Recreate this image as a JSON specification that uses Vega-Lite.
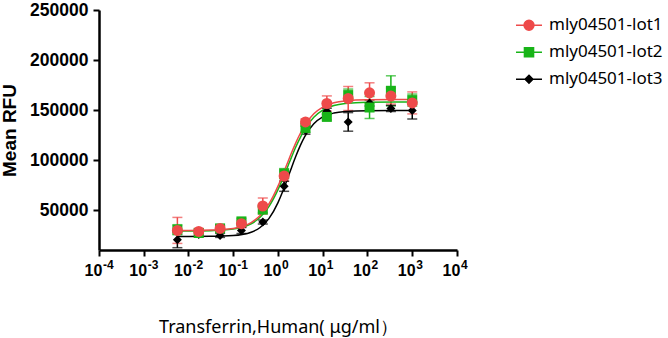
{
  "$schema": "https://vega.github.io/schema/vega-lite/v6.json",
  "width": 358,
  "height": 240,
  "autosize": {"type": "none"},
  "padding": {"left": 99, "top": 10, "right": 211, "bottom": 88},
  "background": "white",
  "config": {
    "view": {"stroke": null},
    "axis": {
      "grid": false,
      "domainColor": "black",
      "domainWidth": 2.5,
      "tickColor": "black",
      "tickWidth": 2,
      "tickSize": 6,
      "labelFont": "Liberation Sans",
      "labelFontWeight": "bold",
      "labelFontSize": 16,
      "labelColor": "black",
      "titleColor": "black",
      "titleFont": "Liberation Sans"
    },
    "legend": {
      "orient": "none",
      "legendX": 416,
      "legendY": 2,
      "labelFont": "Noto Sans",
      "labelFontSize": 17,
      "labelColor": "black",
      "labelOffset": 6,
      "symbolSize": 676,
      "symbolStrokeWidth": 1.5,
      "symbolOpacity": 1,
      "clipHeight": 26.5,
      "rowPadding": 0
    }
  },
  "datasets": {
    "pts": [
      {"lot": "mly04501-lot3", "x": 0.005645, "mean": 20300, "lo": 12300, "hi": 28300},
      {"lot": "mly04501-lot3", "x": 0.01694, "mean": 25500, "lo": 23500, "hi": 27500},
      {"lot": "mly04501-lot3", "x": 0.0508, "mean": 24600, "lo": 22600, "hi": 26600},
      {"lot": "mly04501-lot3", "x": 0.1524, "mean": 29500, "lo": 26500, "hi": 32500},
      {"lot": "mly04501-lot3", "x": 0.4572, "mean": 38000, "lo": 36000, "hi": 40000},
      {"lot": "mly04501-lot3", "x": 1.372, "mean": 73700, "lo": 68700, "hi": 78700},
      {"lot": "mly04501-lot3", "x": 4.115, "mean": 129800, "lo": 125800, "hi": 133800},
      {"lot": "mly04501-lot3", "x": 12.35, "mean": 148800, "lo": 145800, "hi": 151800},
      {"lot": "mly04501-lot3", "x": 37.04, "mean": 138100, "lo": 128800, "hi": 147400},
      {"lot": "mly04501-lot3", "x": 111.1, "mean": 157000, "lo": 154000, "hi": 160000},
      {"lot": "mly04501-lot3", "x": 333.3, "mean": 151500, "lo": 148500, "hi": 154500},
      {"lot": "mly04501-lot3", "x": 1000, "mean": 149500, "lo": 141000, "hi": 158000},
      {"lot": "mly04501-lot2", "x": 0.005645, "mean": 30300, "lo": 25300, "hi": 35300},
      {"lot": "mly04501-lot2", "x": 0.01694, "mean": 27000, "lo": 23500, "hi": 30500},
      {"lot": "mly04501-lot2", "x": 0.0508, "mean": 31600, "lo": 28600, "hi": 34600},
      {"lot": "mly04501-lot2", "x": 0.1524, "mean": 38600, "lo": 35600, "hi": 41600},
      {"lot": "mly04501-lot2", "x": 0.4572, "mean": 50400, "lo": 47400, "hi": 53400},
      {"lot": "mly04501-lot2", "x": 1.372, "mean": 86400, "lo": 81400, "hi": 91400},
      {"lot": "mly04501-lot2", "x": 4.115, "mean": 132100, "lo": 127600, "hi": 136600},
      {"lot": "mly04501-lot2", "x": 12.35, "mean": 143100, "lo": 140100, "hi": 146100},
      {"lot": "mly04501-lot2", "x": 37.04, "mean": 164900, "lo": 158900, "hi": 170900},
      {"lot": "mly04501-lot2", "x": 111.1, "mean": 152500, "lo": 141500, "hi": 163500},
      {"lot": "mly04501-lot2", "x": 333.3, "mean": 169200, "lo": 154200, "hi": 184200},
      {"lot": "mly04501-lot2", "x": 1000, "mean": 159900, "lo": 153900, "hi": 165900},
      {"lot": "mly04501-lot1", "x": 0.005645, "mean": 29600, "lo": 16600, "hi": 42600},
      {"lot": "mly04501-lot1", "x": 0.01694, "mean": 28600, "lo": 25600, "hi": 31600},
      {"lot": "mly04501-lot1", "x": 0.0508, "mean": 31600, "lo": 28600, "hi": 34600},
      {"lot": "mly04501-lot1", "x": 0.1524, "mean": 36300, "lo": 32800, "hi": 39800},
      {"lot": "mly04501-lot1", "x": 0.4572, "mean": 54000, "lo": 46000, "hi": 62000},
      {"lot": "mly04501-lot1", "x": 1.372, "mean": 84000, "lo": 79000, "hi": 89000},
      {"lot": "mly04501-lot1", "x": 4.115, "mean": 138100, "lo": 135100, "hi": 141100},
      {"lot": "mly04501-lot1", "x": 12.35, "mean": 156500, "lo": 148900, "hi": 164100},
      {"lot": "mly04501-lot1", "x": 37.04, "mean": 161500, "lo": 149500, "hi": 173500},
      {"lot": "mly04501-lot1", "x": 111.1, "mean": 167200, "lo": 157200, "hi": 177200},
      {"lot": "mly04501-lot1", "x": 333.3, "mean": 163900, "lo": 155900, "hi": 171900},
      {"lot": "mly04501-lot1", "x": 1000, "mean": 157100, "lo": 146100, "hi": 168100}
    ],
    "fit": [
      {"lot": "mly04501-lot3", "x": 0.005623, "fit": 23507},
      {"lot": "mly04501-lot3", "x": 0.01, "fit": 23519},
      {"lot": "mly04501-lot3", "x": 0.03162, "fit": 23632},
      {"lot": "mly04501-lot3", "x": 0.1, "fit": 24420},
      {"lot": "mly04501-lot3", "x": 0.1585, "fit": 25494},
      {"lot": "mly04501-lot3", "x": 0.2512, "fit": 27786},
      {"lot": "mly04501-lot3", "x": 0.3981, "fit": 32500},
      {"lot": "mly04501-lot3", "x": 0.631, "fit": 41656},
      {"lot": "mly04501-lot3", "x": 1, "fit": 57407},
      {"lot": "mly04501-lot3", "x": 1.259, "fit": 67913},
      {"lot": "mly04501-lot3", "x": 1.585, "fit": 79750},
      {"lot": "mly04501-lot3", "x": 1.995, "fit": 92053},
      {"lot": "mly04501-lot3", "x": 2.512, "fit": 103908},
      {"lot": "mly04501-lot3", "x": 3.162, "fit": 114606},
      {"lot": "mly04501-lot3", "x": 3.981, "fit": 123579},
      {"lot": "mly04501-lot3", "x": 6.31, "fit": 136161},
      {"lot": "mly04501-lot3", "x": 10, "fit": 143033},
      {"lot": "mly04501-lot3", "x": 17.78, "fit": 146993},
      {"lot": "mly04501-lot3", "x": 31.62, "fit": 148543},
      {"lot": "mly04501-lot3", "x": 100, "fit": 149364},
      {"lot": "mly04501-lot3", "x": 1000, "fit": 149500},
      {"lot": "mly04501-lot2", "x": 0.005623, "fit": 29026},
      {"lot": "mly04501-lot2", "x": 0.01, "fit": 29061},
      {"lot": "mly04501-lot2", "x": 0.03162, "fit": 29342},
      {"lot": "mly04501-lot2", "x": 0.1, "fit": 30897},
      {"lot": "mly04501-lot2", "x": 0.1585, "fit": 32728},
      {"lot": "mly04501-lot2", "x": 0.2512, "fit": 36247},
      {"lot": "mly04501-lot2", "x": 0.3981, "fit": 42680},
      {"lot": "mly04501-lot2", "x": 0.631, "fit": 53665},
      {"lot": "mly04501-lot2", "x": 1, "fit": 70346},
      {"lot": "mly04501-lot2", "x": 1.259, "fit": 80600},
      {"lot": "mly04501-lot2", "x": 1.585, "fit": 91561},
      {"lot": "mly04501-lot2", "x": 1.995, "fit": 102630},
      {"lot": "mly04501-lot2", "x": 2.512, "fit": 113204},
      {"lot": "mly04501-lot2", "x": 3.162, "fit": 122682},
      {"lot": "mly04501-lot2", "x": 3.981, "fit": 130815},
      {"lot": "mly04501-lot2", "x": 6.31, "fit": 142757},
      {"lot": "mly04501-lot2", "x": 10, "fit": 149900},
      {"lot": "mly04501-lot2", "x": 17.78, "fit": 154463},
      {"lot": "mly04501-lot2", "x": 31.62, "fit": 156483},
      {"lot": "mly04501-lot2", "x": 100, "fit": 157727},
      {"lot": "mly04501-lot2", "x": 1000, "fit": 157970},
      {"lot": "mly04501-lot1", "x": 0.005623, "fit": 29528},
      {"lot": "mly04501-lot1", "x": 0.01, "fit": 29567},
      {"lot": "mly04501-lot1", "x": 0.03162, "fit": 29876},
      {"lot": "mly04501-lot1", "x": 0.1, "fit": 31589},
      {"lot": "mly04501-lot1", "x": 0.1585, "fit": 33607},
      {"lot": "mly04501-lot1", "x": 0.2512, "fit": 37439},
      {"lot": "mly04501-lot1", "x": 0.3981, "fit": 44454},
      {"lot": "mly04501-lot1", "x": 0.631, "fit": 56289},
      {"lot": "mly04501-lot1", "x": 1, "fit": 73907},
      {"lot": "mly04501-lot1", "x": 1.259, "fit": 84542},
      {"lot": "mly04501-lot1", "x": 1.585, "fit": 95796},
      {"lot": "mly04501-lot1", "x": 1.995, "fit": 106923},
      {"lot": "mly04501-lot1", "x": 2.512, "fit": 117419},
      {"lot": "mly04501-lot1", "x": 3.162, "fit": 126753},
      {"lot": "mly04501-lot1", "x": 3.981, "fit": 134721},
      {"lot": "mly04501-lot1", "x": 6.31, "fit": 146152},
      {"lot": "mly04501-lot1", "x": 10, "fit": 152887},
      {"lot": "mly04501-lot1", "x": 17.78, "fit": 157180},
      {"lot": "mly04501-lot1", "x": 31.62, "fit": 159075},
      {"lot": "mly04501-lot1", "x": 100, "fit": 160245},
      {"lot": "mly04501-lot1", "x": 1000, "fit": 160480}
    ],
    "exp": [
      {"x": 0.0001, "e": "-4"},
      {"x": 0.001, "e": "-3"},
      {"x": 0.01, "e": "-2"},
      {"x": 0.1, "e": "-1"},
      {"x": 1, "e": "0"},
      {"x": 10, "e": "1"},
      {"x": 100, "e": "2"},
      {"x": 1000, "e": "3"},
      {"x": 10000, "e": "4"}
    ]
  },
  "layer": [
    {
      "data": {"name": "pts"},
      "mark": {"type": "rule", "strokeWidth": 1.5},
      "encoding": {
        "x": {"field": "x", "type": "quantitative", "scale": {"type": "log", "domain": [0.0001, 10000], "nice": false},
          "axis": {
            "values": [0.0001, 0.001, 0.01, 0.1, 1, 10, 100, 1000, 10000],
            "labelExpr": "'10'",
            "labelOffset": -6,
            "labelPadding": 6,
            "labelFlush": false,
            "labelOverlap": false,
            "labelBound": false,
            "title": "Transferrin,Human(  μg/ml）",
            "titleFont": "Noto Sans",
            "titleFontSize": 18,
            "titleFontWeight": "normal",
            "titlePadding": 40
          }
        },
        "y": {"field": "lo", "type": "quantitative", "scale": {"domain": [10000, 250000], "nice": false, "zero": false},
          "axis": {
            "values": [50000, 100000, 150000, 200000, 250000],
            "format": "d",
            "labelFontSize": 17.5,
            "labelPadding": 5,
            "title": "Mean RFU",
            "titleFontSize": 19,
            "titleFontWeight": "bold",
            "titlePadding": 10
          }
        },
        "y2": {"field": "hi"},
        "color": {"field": "lot", "type": "nominal", "scale": {"range": ["#EE4A4A", "#18B418", "#000000"]}, "legend": null}
      }
    },
    {
      "data": {"name": "pts"},
      "mark": {"type": "tick", "orient": "horizontal", "size": 10, "thickness": 1.5},
      "encoding": {
        "x": {"field": "x", "type": "quantitative"},
        "y": {"field": "lo", "type": "quantitative"},
        "color": {"field": "lot", "type": "nominal", "legend": null}
      }
    },
    {
      "data": {"name": "pts"},
      "mark": {"type": "tick", "orient": "horizontal", "size": 10, "thickness": 1.5},
      "encoding": {
        "x": {"field": "x", "type": "quantitative"},
        "y": {"field": "hi", "type": "quantitative"},
        "color": {"field": "lot", "type": "nominal", "legend": null}
      }
    },
    {
      "data": {"name": "fit"},
      "mark": {"type": "line", "interpolate": "monotone", "strokeWidth": 1.5},
      "encoding": {
        "x": {"field": "x", "type": "quantitative"},
        "y": {"field": "fit", "type": "quantitative"},
        "color": {"field": "lot", "type": "nominal", "legend": null}
      }
    },
    {
      "data": {"name": "pts"},
      "transform": [{"filter": "datum.lot === 'mly04501-lot3'"}],
      "mark": {"type": "point", "filled": true, "opacity": 1, "shape": "diamond", "size": 81},
      "encoding": {
        "x": {"field": "x", "type": "quantitative"},
        "y": {"field": "mean", "type": "quantitative"},
        "color": {"field": "lot", "type": "nominal", "legend": null}
      }
    },
    {
      "data": {"name": "pts"},
      "transform": [{"filter": "datum.lot === 'mly04501-lot2'"}],
      "mark": {"type": "point", "filled": true, "opacity": 1, "shape": "square", "size": 100},
      "encoding": {
        "x": {"field": "x", "type": "quantitative"},
        "y": {"field": "mean", "type": "quantitative"},
        "color": {"field": "lot", "type": "nominal", "legend": null}
      }
    },
    {
      "data": {"name": "pts"},
      "transform": [{"filter": "datum.lot === 'mly04501-lot1'"}],
      "mark": {"type": "point", "filled": true, "opacity": 1, "shape": "circle", "size": 121},
      "encoding": {
        "x": {"field": "x", "type": "quantitative"},
        "y": {"field": "mean", "type": "quantitative"},
        "color": {"field": "lot", "type": "nominal", "legend": null}
      }
    },
    {
      "data": {"name": "exp"},
      "mark": {"type": "text", "align": "left", "baseline": "top", "dx": 4, "dy": 10, "font": "Liberation Sans", "fontWeight": "bold", "fontSize": 12, "color": "black"},
      "encoding": {
        "x": {"field": "x", "type": "quantitative"},
        "y": {"datum": 10000, "type": "quantitative"},
        "text": {"field": "e", "type": "nominal"}
      }
    },
    {
      "data": {"name": "pts"},
      "mark": {"type": "point", "filled": true, "opacity": 0, "strokeWidth": 1.5},
      "encoding": {
        "x": {"field": "x", "type": "quantitative"},
        "y": {"field": "mean", "type": "quantitative"},
        "fill": {"field": "lot", "type": "nominal", "scale": {"domain": ["mly04501-lot1", "mly04501-lot2", "mly04501-lot3"], "range": ["#EE4A4A", "#18B418", "#000000"]}, "legend": {"title": null}},
        "stroke": {"field": "lot", "type": "nominal", "scale": {"domain": ["mly04501-lot1", "mly04501-lot2", "mly04501-lot3"], "range": ["#EE4A4A", "#18B418", "#000000"]}, "legend": {"title": null}},
        "shape": {"field": "lot", "type": "nominal", "scale": {"domain": ["mly04501-lot1", "mly04501-lot2", "mly04501-lot3"], "range": [
          "M-1,0L1,0M0.38,0A0.38,0.38,0,1,0,-0.38,0A0.38,0.38,0,1,0,0.38,0Z",
          "M-1,0L1,0M-0.35,-0.35L0.35,-0.35L0.35,0.35L-0.35,0.35Z",
          "M-1,0L1,0M0,-0.3L0.3,0L0,0.3L-0.3,0Z"
        ]}, "legend": {"title": null}}
      }
    }
  ]
}
